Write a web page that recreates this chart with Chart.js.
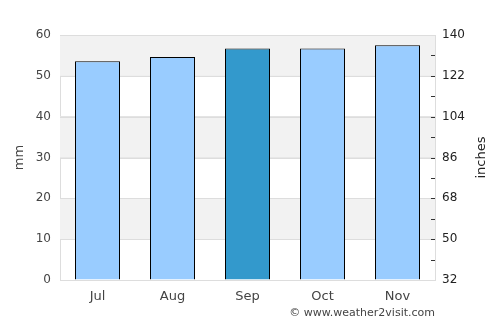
<!DOCTYPE html>
<html>
<head>
<meta charset="utf-8">
<script src="https://cdn.jsdelivr.net/npm/chart.js@4"></script>
<style>
  html, body { margin: 0; padding: 0; background: #fff; }
  #chart { display: block; }
</style>
</head>
<body>
<canvas id="chart" width="500" height="325"></canvas>
<script>
"use strict";

// data
let months = ["Jul", "Aug", "Sep", "Oct", "Nov"];
let rainMm = [53.6, 54.6, 56.7, 56.7, 57.5];
let barColors = ["#99ccff", "#99ccff", "#3399cc", "#99ccff", "#99ccff"];
let bands = [[10, 20], [30, 40], [50, 60]];

// grey stripes behind the bars
let bandPlugin = {
  id: "bands",
  beforeDatasetsDraw(chart) {
    let ctx = chart.ctx;
    let area = chart.chartArea;
    let y = chart.scales.y;
    ctx.save();
    ctx.fillStyle = "#f2f2f2";
    for (let b of bands) {
      let top = y.getPixelForValue(b[1]);
      let bottom = y.getPixelForValue(b[0]);
      ctx.fillRect(area.left, top, area.right - area.left, bottom - top);
    }
    // redraw the grid lines on top of the stripes
    ctx.strokeStyle = "#dddddd";
    ctx.lineWidth = 1;
    for (let t of y.ticks) {
      let py = Math.round(y.getPixelForValue(t.value)) + 0.5;
      ctx.beginPath();
      ctx.moveTo(area.left, py);
      ctx.lineTo(area.right, py);
      ctx.stroke();
    }
    ctx.restore();
  }
};

// small inward tick marks on the right axis, axis titles, credit text
let extrasPlugin = {
  id: "extras",
  afterDraw(chart) {
    let ctx = chart.ctx;
    let area = chart.chartArea;
    let y2 = chart.scales.y2;
    ctx.save();
    ctx.strokeStyle = "#333333";
    ctx.lineWidth = 1;
    for (let t of y2.ticks) {
      if (t.value === y2.min || t.value === y2.max) continue;
      let py = Math.round(y2.getPixelForValue(t.value)) + 0.5;
      ctx.beginPath();
      ctx.moveTo(area.right - 4, py);
      ctx.lineTo(area.right, py);
      ctx.stroke();
    }

    // axis titles, both reading bottom to top
    let midY = (area.top + area.bottom) / 2;
    ctx.font = "13px 'DejaVu Sans'";
    ctx.textAlign = "center";
    ctx.textBaseline = "middle";
    ctx.fillStyle = "#444444";
    ctx.save();
    ctx.translate(20, midY);
    ctx.rotate(-Math.PI / 2);
    ctx.fillText("mm", 0, 0);
    ctx.restore();
    ctx.fillStyle = "#222222";
    ctx.save();
    ctx.translate(482, midY);
    ctx.rotate(-Math.PI / 2);
    ctx.fillText("inches", 0, 0);
    ctx.restore();

    ctx.fillStyle = "#444444";
    ctx.font = "11px 'DejaVu Sans'";
    ctx.textAlign = "right";
    ctx.fillText("\u00a9 www.weather2visit.com", area.right, 313);
    ctx.restore();
  }
};

let ctx = document.querySelector("#chart");
let myChart = new Chart(ctx, {
  type: "bar",
  data: {
    labels: months,
    datasets: [{
      data: rainMm,
      backgroundColor: barColors,
      borderColor: "#000000",
      borderWidth: 1,
      borderSkipped: "bottom",
      barPercentage: 0.6,
      categoryPercentage: 1.0
    }]
  },
  options: {
    responsive: false,
    animation: false,
    layout: { padding: { top: 35, left: 0, right: 0, bottom: 0 } },
    plugins: {
      legend: { display: false },
      tooltip: { enabled: false }
    },
    scales: {
      x: {
        grid: { display: false, drawTicks: false },
        border: { color: "#dddddd" },
        ticks: { color: "#444444", font: { family: "DejaVu Sans", size: 13 }, padding: 9 },
        afterFit(scale) { scale.height = 45; }
      },
      y: {
        position: "left",
        min: 0,
        max: 60,
        ticks: { stepSize: 10, color: "#444444", font: { family: "DejaVu Sans", size: 12 }, padding: 9 },
        grid: { color: "#dddddd", drawTicks: false },
        border: { color: "#dddddd" },
        afterFit(scale) { scale.width = 60; }
      },
      y2: {
        position: "right",
        min: 32,
        max: 140,
        ticks: {
          stepSize: 9,
          color: "#222222",
          font: { family: "DejaVu Sans", size: 12 },
          padding: 7,
          callback: v => ((v - 32) % 18 === 0 ? v : "")
        },
        grid: { drawOnChartArea: false, drawTicks: false },
        border: { color: "#dddddd" },
        afterFit(scale) { scale.width = 65; }
      }
    }
  },
  plugins: [bandPlugin, extrasPlugin]
});
</script>
</body>
</html>
